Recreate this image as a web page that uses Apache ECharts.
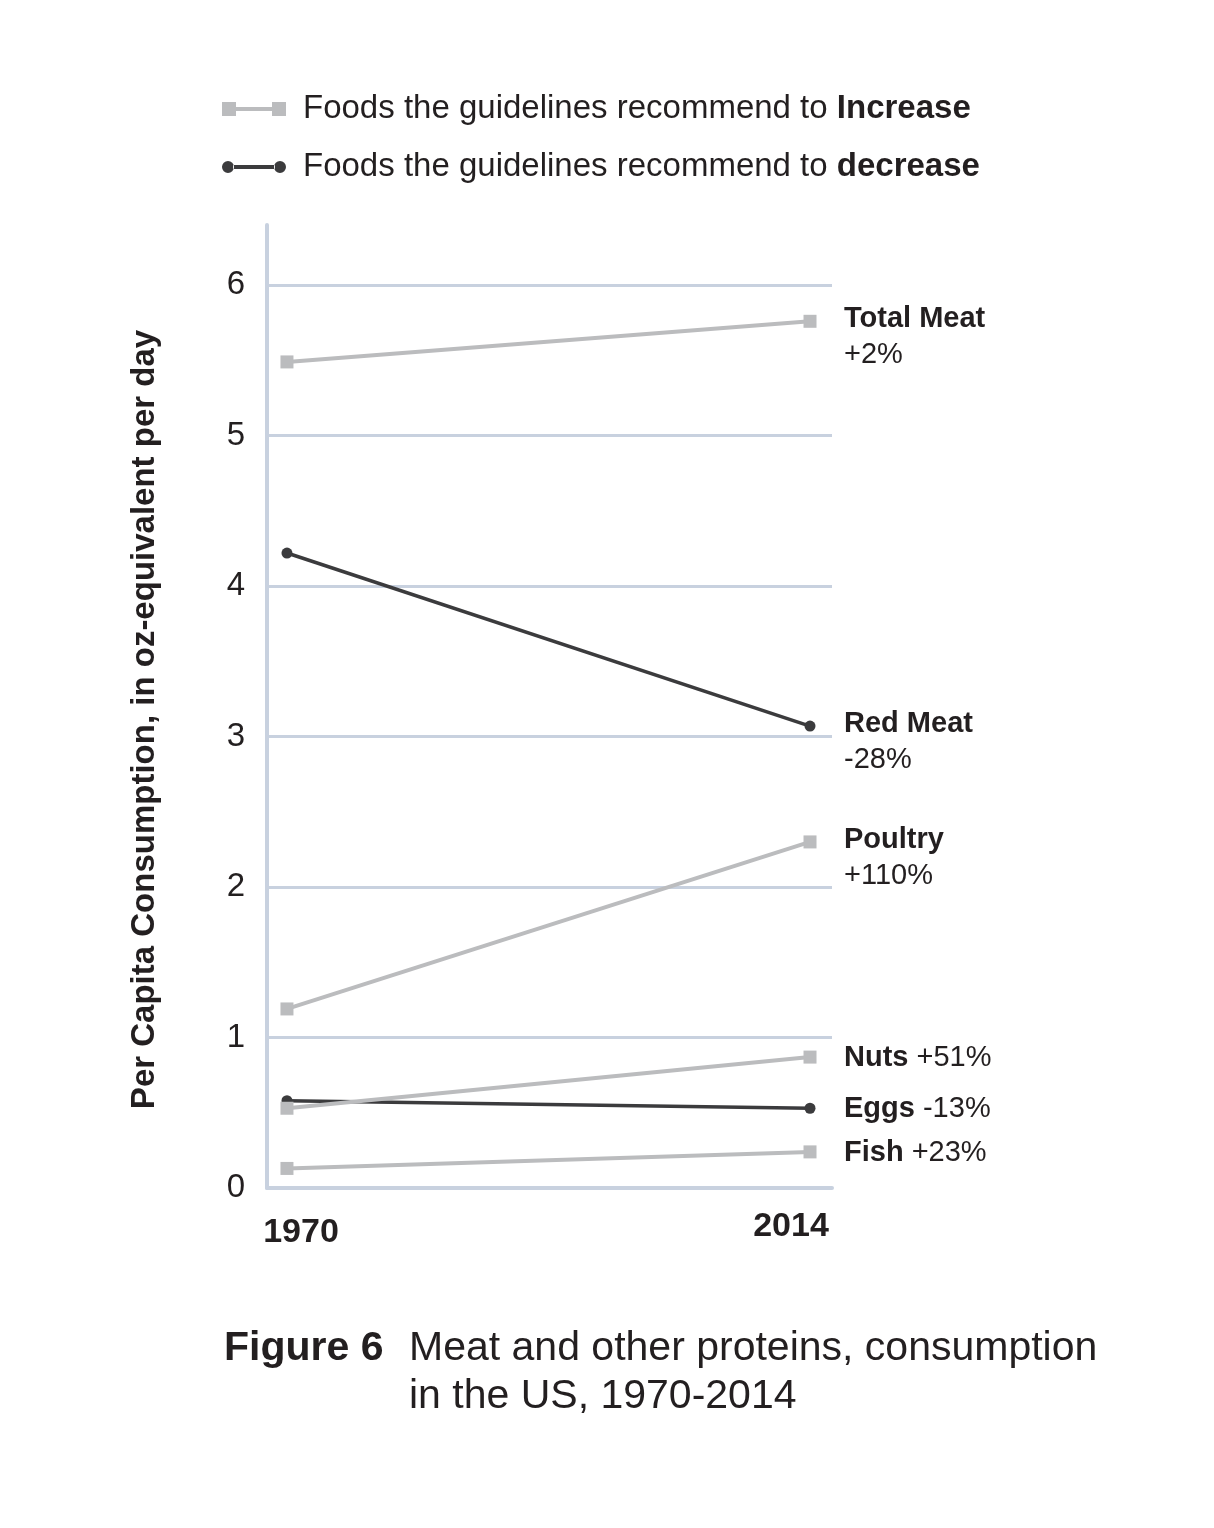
<!DOCTYPE html>
<html><head><meta charset="utf-8">
<script src="https://cdn.jsdelivr.net/npm/echarts@6/dist/echarts.min.js"></script>
<style>html,body{margin:0;padding:0;background:#fff}#c{width:1214px;height:1528px}</style>
</head><body><div id="c"></div>
<script>
// ---- data ----
const years = [1970, 2014];
const xLabels = ['1970', '2014'];
const foods = ['Total Meat', 'Red Meat', 'Poultry', 'Nuts', 'Eggs', 'Fish'];
const changes = ['+2%', '-28%', '+110%', '+51%', '-13%', '+23%'];
const values1970 = [5.49, 4.22, 1.19, 0.53, 0.58, 0.13];
const values2014 = [5.76, 3.07, 2.30, 0.87, 0.53, 0.24];
const guideline = ['increase', 'decrease', 'increase', 'increase', 'decrease', 'increase'];
const legendNames = {
  increase: 'Foods the guidelines recommend to Increase',
  decrease: 'Foods the guidelines recommend to decrease'
};
const yAxisTitle = 'Per Capita Consumption, in oz-equivalent per day';
const captionLabel = 'Figure 6';
const captionText = 'Meat and other proteins, consumption\nin the US, 1970-2014';

// ---- styles ----
const FONT = "'Liberation Sans', Arial, Helvetica, sans-serif";
const INK = '#231f20';
const AXIS = '#c8d1df';
const COLORS = { increase: '#bbbcbe', decrease: '#3b3b3d' };
const twoLine = [true, true, true, false, false, false];

const chart = echarts.init(document.getElementById('c'), null, { renderer: 'canvas' });

const order = [1, 4, 0, 2, 3, 5]; // dark lines underneath
const series = order.map(i => {
  const g = guideline[i];
  const inc = g === 'increase';
  return {
    name: legendNames[g],
    type: 'line',
    data: [[years[0], values1970[i]], [years[1], values2014[i]]],
    symbol: inc ? 'rect' : 'circle',
    symbolSize: inc ? 13 : 11,
    showSymbol: true,
    color: COLORS[g],
    lineStyle: { width: inc ? 4 : 3.5, color: COLORS[g] },
    itemStyle: { color: COLORS[g] },
    emphasis: { disabled: true },
    animation: false,
    endLabel: {
      show: true,
      distance: 34,
      offset: twoLine[i] ? [0, 16] : [0, 1],
      formatter: twoLine[i]
        ? '{b|' + foods[i] + '}\n{n|' + changes[i] + '}'
        : '{b|' + foods[i] + '} {n|' + changes[i] + '}',
      color: INK,
      fontFamily: FONT,
      fontSize: 29,
      align: 'left',
      rich: {
        b: { fontWeight: 'bold', fontSize: 29, lineHeight: 36, color: INK, fontFamily: FONT },
        n: { fontSize: 29, lineHeight: 36, color: INK, fontFamily: FONT }
      }
    }
  };
});

const option = {
  backgroundColor: '#ffffff',
  animation: false,
  textStyle: { fontFamily: FONT },
  title: [
    { text: captionLabel, left: 219, top: 1320,
      textStyle: { fontFamily: FONT, fontSize: 41, fontWeight: 'bold', color: INK, lineHeight: 48 } },
    { text: captionText, left: 404, top: 1320,
      textStyle: { fontFamily: FONT, fontSize: 41, fontWeight: 'normal', color: INK, lineHeight: 48 } }
  ],
  legend: {
    orient: 'vertical',
    left: 217, top: 86,
    itemWidth: 64, itemHeight: 14,
    itemGap: 22,
    selectedMode: false,
    formatter: name => {
      const w = name.split(' ');
      const last = w.pop();
      return w.join(' ') + ' {b|' + last + '}';
    },
    textStyle: {
      fontFamily: FONT, fontSize: 33, color: INK, lineHeight: 36, padding: [0, 0, 0, 12],
      rich: { b: { fontFamily: FONT, fontSize: 33, fontWeight: 'bold', color: INK, lineHeight: 36 } }
    },
    data: [
      { name: legendNames.increase,
        icon: 'path://M0,0h14v14h-14zM14,5h36v4h-36zM50,0h14v14h-14z',
        itemStyle: { color: COLORS.increase } },
      { name: legendNames.decrease,
        icon: 'path://M0,7a6,6 0 1,0 12,0a6,6 0 1,0 -12,0zM11,5h42v4h-42zM52,7a6,6 0 1,0 12,0a6,6 0 1,0 -12,0z',
        itemStyle: { color: COLORS.decrease } }
    ]
  },
  grid: { left: 267, right: 382, top: 225, bottom: 340, containLabel: false },
  xAxis: {
    type: 'value',
    min: 1968.32, max: 2015.85,
    axisLine: { show: true, lineStyle: { color: AXIS, width: 4 } },
    axisTick: { show: false },
    splitLine: { show: false },
    axisLabel: {
      customValues: years,
      margin: 22,
      formatter: v => {
        const k = years.indexOf(v);
        return k === 0 ? '{a|' + xLabels[0] + '}' : k === 1 ? '{c|' + xLabels[1] + '}' : '';
      },
      rich: {
        a: { fontFamily: FONT, fontSize: 34, fontWeight: 'bold', color: INK, padding: [6, 0, 0, 28] },
        c: { fontFamily: FONT, fontSize: 34, fontWeight: 'bold', color: INK, padding: [0, 38, 0, 0] }
      }
    }
  },
  yAxis: {
    type: 'value',
    min: 0, max: 6.4, interval: 1,
    name: yAxisTitle,
    nameLocation: 'middle',
    nameRotate: 90,
    nameGap: 106,
    nameTextStyle: { fontFamily: FONT, fontSize: 33, fontWeight: 'bold', color: INK, padding: [0, 26, 0, 0] },
    axisLine: { show: true, lineStyle: { color: AXIS, width: 4 } },
    axisTick: { show: false },
    splitLine: { show: true, showMaxLine: false, lineStyle: { color: AXIS, width: 3 } },
    axisLabel: { showMaxLabel: false, fontFamily: FONT, fontSize: 33, color: INK, margin: 22 }
  },
  series: series
};
chart.setOption(option);
</script>
</body></html>
